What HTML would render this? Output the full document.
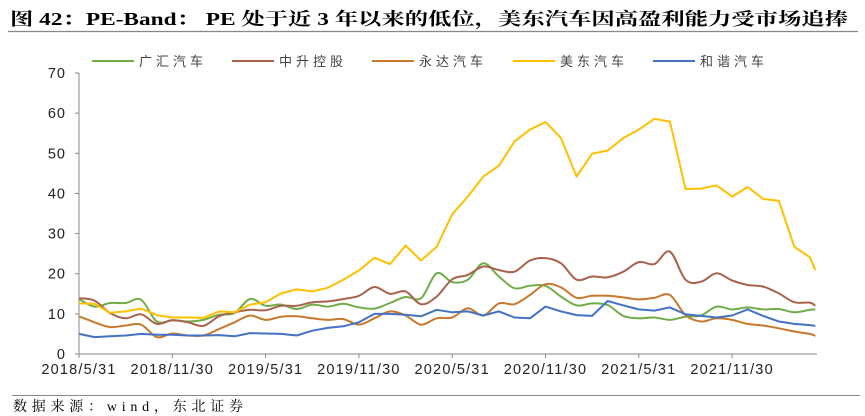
<!DOCTYPE html>
<html><head><meta charset="utf-8"><style>
body{margin:0;background:#fff;}
svg{display:block;}
</style></head><body>
<svg width="865" height="416" viewBox="0 0 865 416" xmlns="http://www.w3.org/2000/svg">
<text x="10" y="25" font-family="Liberation Serif, Noto Serif CJK SC, serif" font-weight="bold" font-size="17.5" textLength="838" lengthAdjust="spacingAndGlyphs">图 42：PE-Band： PE 处于近 3 年以来的低位，美东汽车因高盈利能力受市场追捧</text>
<line x1="8" y1="31.5" x2="858" y2="31.5" stroke="#888" stroke-width="1.2"/>
<g id="legend"></g>
<g id="axes"></g>
<g id="series"></g>
<line x1="12" y1="395.5" x2="860" y2="395.5" stroke="#888" stroke-width="1"/>
<text x="13" y="411" font-family="Liberation Serif, Noto Serif CJK SC, serif" font-size="14" textLength="230" lengthAdjust="spacing">数据来源：wind，东北证券</text>
</svg>
<script>
const tickLabels=["2018/5/31","2018/11/30","2019/5/31","2019/11/30","2020/5/31","2020/11/30","2021/5/31","2021/11/30"];
const tickMonths=[0,6,12,18,24,30,36,42];
const yTicks=[0,10,20,30,40,50,60,70];
const pointMonths=[0,1,2,3,4,5,6,7,8,9,10,11,12,13,14,15,16,17,18,19,20,21,22,23,24,25,26,27,28,29,30,31,32,33,34,35,36,37,38,39,40,41,42,43,44,45,46,47,47.35];
const seriesNames=["广汇汽车","中升控股","永达汽车","美东汽车","和谐汽车"];
const seriesColors=["#70ad47","#a9634a","#c8782c","#ffc000","#4472c4"];
const guanghui=[13.7,11.8,12.7,12.7,13.5,8.1,8.4,8.1,8.5,9.8,10.2,13.7,12.0,12.3,11.2,12.3,11.8,12.5,11.6,11.3,12.7,14.2,13.9,20.1,17.9,18.5,22.6,19.3,16.4,17.0,17.0,14.3,12.1,12.6,12.2,9.5,8.9,9.1,8.5,9.3,9.6,11.8,11.1,11.6,11.1,11.2,10.4,11.0,11.1];
const zhongsheng=[13.9,13.3,10.2,8.9,9.9,7.5,8.4,7.9,7.0,9.4,10.4,11.0,10.9,12.0,12.0,12.9,13.1,13.7,14.5,16.7,15.0,15.6,12.4,14.3,18.6,19.7,21.8,20.9,20.5,23.3,23.9,22.6,18.5,19.3,19.1,20.5,22.9,22.4,25.5,18.5,18.0,20.1,18.3,17.2,16.8,15.1,12.9,12.8,12.0];
const yongda=[9.4,7.9,6.7,7.1,7.3,4.2,5.1,4.6,4.6,6.2,7.9,9.6,8.5,9.3,9.4,8.9,8.5,8.7,7.3,8.9,10.6,9.6,7.3,8.9,9.1,11.4,9.6,12.6,12.4,14.7,17.4,16.6,14.0,14.5,14.5,14.1,13.6,14.0,14.7,9.7,8.1,8.9,8.5,7.5,7.1,6.4,5.6,5.0,4.5];
const meidong=[12.6,12.5,10.3,10.6,11.3,9.7,9.1,9.1,9.0,10.6,10.4,12.3,12.9,15.1,16.1,15.6,16.5,18.5,20.8,24.0,22.4,27.0,23.3,26.7,34.8,39.2,44.2,46.9,52.9,55.9,57.8,53.8,44.2,49.9,50.7,53.8,55.9,58.6,57.9,41.1,41.2,42.0,39.2,41.6,38.6,38.2,26.7,24.1,20.9];
const hexie=[5.0,4.2,4.4,4.6,5.0,4.8,4.8,4.6,4.6,4.7,4.4,5.2,5.1,5.0,4.6,5.8,6.5,6.9,7.9,10.0,10.0,9.8,9.4,11.0,10.4,10.6,9.6,10.6,9.1,8.9,11.8,10.6,9.7,9.5,13.2,12.1,11.1,10.8,11.6,9.9,9.5,9.1,9.6,11.1,9.5,8.1,7.5,7.2,7.0];
const allSeries=[guanghui,zhongsheng,yongda,meidong,hexie];
const smoothFlags=[true,true,true,false,false];

const NS="http://www.w3.org/2000/svg";
const X0=79,X1=817,Y0=354,Y70=73;
function x(m){return X0+m*15.55;}
function y(v){return Y0-(v/70)*(Y0-Y70);}
function mk(tag,attrs,parent){const e=document.createElementNS(NS,tag);for(const k in attrs)e.setAttribute(k,attrs[k]);parent.appendChild(e);return e;}
const axes=document.getElementById('axes');
let a=mk('line',{x1:X0,y1:Y70,x2:X0,y2:Y0,stroke:'#888','stroke-width':1},axes);


a=mk('line',{x1:X0,y1:Y0,x2:X1,y2:Y0,stroke:'#888','stroke-width':1},axes);


yTicks.forEach(v=>{
  const t=mk('line',{x1:X0-4,y1:y(v),x2:X0,y2:y(v),stroke:'#888'},axes);
  
  
  const l=mk('text',{x:X0-13,y:y(v)+5,'text-anchor':'end','font-family':'Liberation Sans, sans-serif','font-size':14.5,fill:'#222','letter-spacing':'1'},axes);
  l.textContent=v;
  
  
});
tickMonths.forEach((m,i)=>{
  const t=mk('line',{x1:x(m),y1:Y0,x2:x(m),y2:Y0+4,stroke:'#888'},axes);
  
  
  const l=mk('text',{x:x(m),y:Y0+20,'text-anchor':'middle','font-family':'Liberation Sans, sans-serif','font-size':14.5,fill:'#222','letter-spacing':'1.2'},axes);
  l.textContent=tickLabels[i];
  
  
});
function pathFor(vals,smooth){
  const p=vals.map((v,i)=>[x(pointMonths[i]),y(v)]);
  let d='M'+p[0][0].toFixed(1)+','+p[0][1].toFixed(1);
  for(let i=1;i<p.length;i++){
    if(!smooth){d+=' L'+p[i][0].toFixed(1)+','+p[i][1].toFixed(1);continue;}
    const p0=p[Math.max(0,i-2)],p1=p[i-1],p2=p[i],p3=p[Math.min(p.length-1,i+1)];
    const c1=[p1[0]+(p2[0]-p0[0])/6,p1[1]+(p2[1]-p0[1])/6];
    const c2=[p2[0]-(p3[0]-p1[0])/6,p2[1]-(p3[1]-p1[1])/6];
    d+=' C'+c1[0].toFixed(1)+','+c1[1].toFixed(1)+' '+c2[0].toFixed(1)+','+c2[1].toFixed(1)+' '+p2[0].toFixed(1)+','+p2[1].toFixed(1);
  }
  return d;
}
const sg=document.getElementById('series');
const names=['guanghui-line','zhongsheng-line','yongda-line','meidong-line','hexie-line'];
allSeries.forEach((vals,k)=>{
  const e=mk('path',{d:pathFor(vals,smoothFlags[k]),fill:'none',stroke:seriesColors[k],'stroke-width':2,'stroke-linejoin':'round'},sg);
  
  
});
const lg=document.getElementById('legend');
const lx=[92,232,372,513,653];
seriesNames.forEach((n,k)=>{
  const ln=mk('line',{x1:lx[k],y1:61,x2:lx[k]+42,y2:61,stroke:seriesColors[k],'stroke-width':2},lg);
  
  
  const t=mk('text',{x:lx[k]+47,y:66,'font-family':'Liberation Sans, Noto Sans CJK SC, sans-serif','font-size':13,fill:'#444','letter-spacing':'4'},lg);
  t.textContent=n;
  
  
});
</script>
</body></html>
